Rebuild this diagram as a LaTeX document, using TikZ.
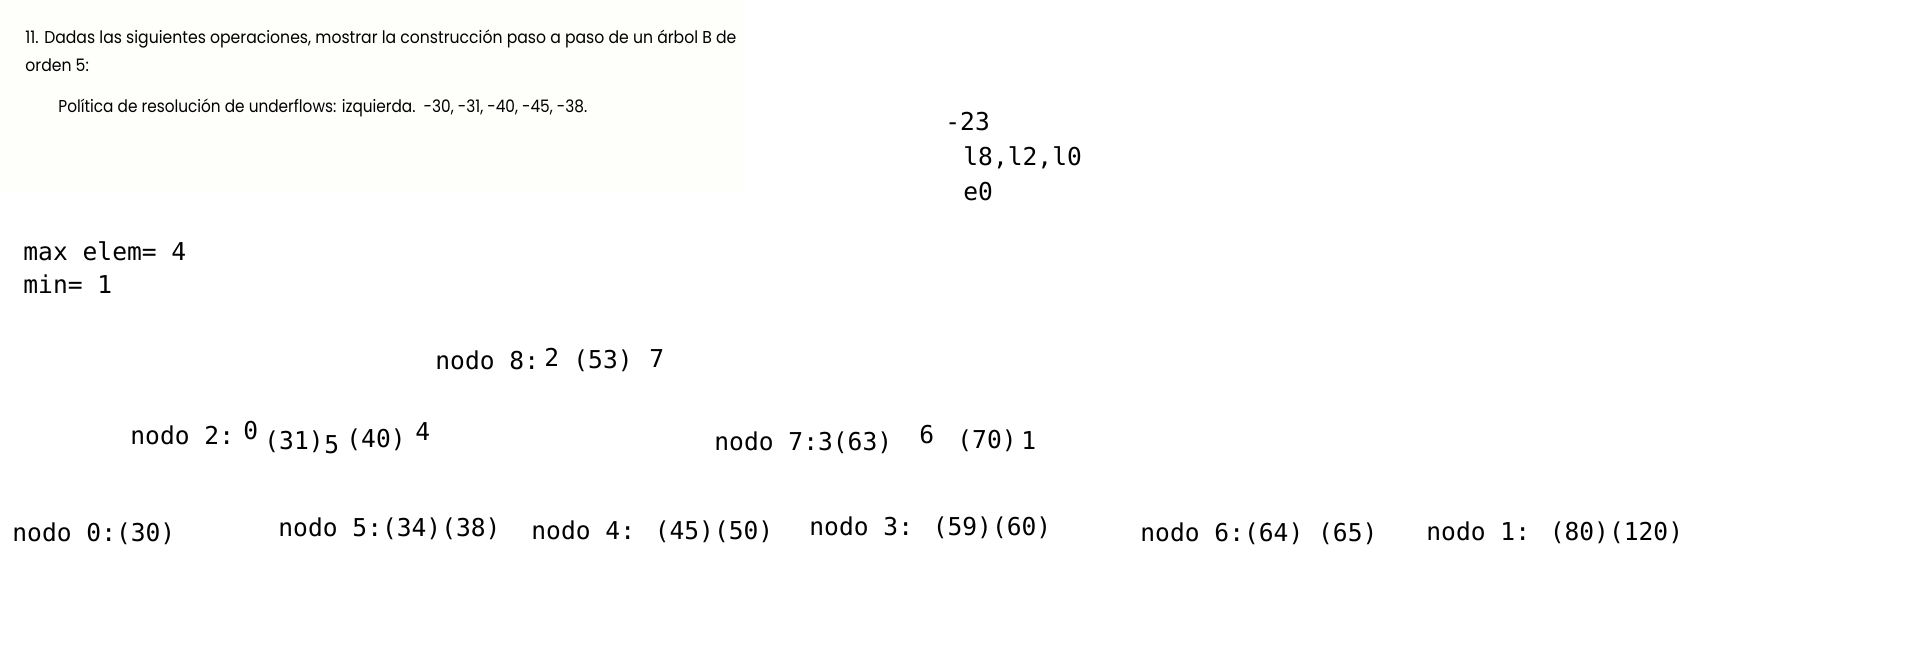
\documentclass[tikz,border=0pt]{standalone}
\usepackage{fontspec}
\usepackage{tikz}
\usetikzlibrary{positioning}
\newfontfamily\monofnt{DejaVu Sans Mono}
\newfontfamily\hdrfnt[FakeStretch=0.91]{Poppins}
\newfontfamily\polfnt[FakeStretch=0.89]{Poppins}
\definecolor{paper}{HTML}{FEFEFB}

\begin{document}
\begin{tikzpicture}[x=0.5pt,y=0.5pt,yscale=-1,xscale=1,
  mono/.style={font=\monofnt\fontsize{12.3}{14}\selectfont, inner sep=0pt, anchor=base west},
  hdr/.style={font=\hdrfnt\fontsize{8.6}{10}\selectfont, inner sep=0pt, anchor=base west},
  pol/.style={font=\polfnt\fontsize{8.6}{10}\selectfont, inner sep=0pt, anchor=base west}]
\useasboundingbox (0,0) rectangle (1914,662);
% faint scan background
\fill[paper] (0,0) rectangle (745,192);

% Text Node
\draw (25,44) node [hdr] (enun) {11. Dadas las siguientes operaciones, mostrar la construcción paso a paso de un árbol B de};
\draw (25,72) node [hdr] (orden) {orden 5:};
\draw (58,113) node [pol] (politica) {Política de resolución de underflows: izquierda.\ \ -30, -31, -40, -45, -38.};

% Text Node
\draw (945,131) node [mono] (op) {-23};
\draw (963,166) node [mono] (lect) {l8,l2,l0};
\draw (963,201) node [mono] (escr) {e0};

% Text Node
\draw (23,261) node [mono] (maxe) {max elem= 4};
\draw (23,293) node [mono] (mine) {min= 1};

% nodo 8 (raiz)
\draw (435,369) node [mono] (n8) {nodo 8:};
\draw (544,366) node [mono] (n8a) {2};
\draw (573,368) node [mono] (n8b) {(53)};
\draw (649,367) node [mono] (n8c) {7};

% nodo 2
\draw (130,444) node [mono] (n2) {nodo 2:};
\draw (243,439) node [mono] (n2a) {0};
\draw (264,449) node [mono] (n2b) {(31)};
\draw (324,453) node [mono] (n2c) {5};
\draw (346,447) node [mono] (n2d) {(40)};
\draw (415,440) node [mono] (n2e) {4};

% nodo 7
\draw (714,450) node [mono] (n7) {nodo 7:3(63)};
\draw (919,443) node [mono] (n7a) {6};
\draw (957,448) node [mono] (n7b) {(70)};
\draw (1021,449) node [mono] (n7c) {1};

% hojas
\draw (12,541) node [mono] (n0) {nodo 0:(30)};
\draw (278,536) node [mono] (n5) {nodo 5:(34)(38)};
\draw (531,539) node [mono] (n4) {nodo 4: (45)(50)};
\draw (809,535) node [mono] (n3) {nodo 3: (59)(60)};
\draw (1140,541) node [mono] (n6) {nodo 6:(64) (65)};
\draw (1426,540) node [mono] (n1) {nodo 1: (80)(120)};

\end{tikzpicture}
\end{document}
